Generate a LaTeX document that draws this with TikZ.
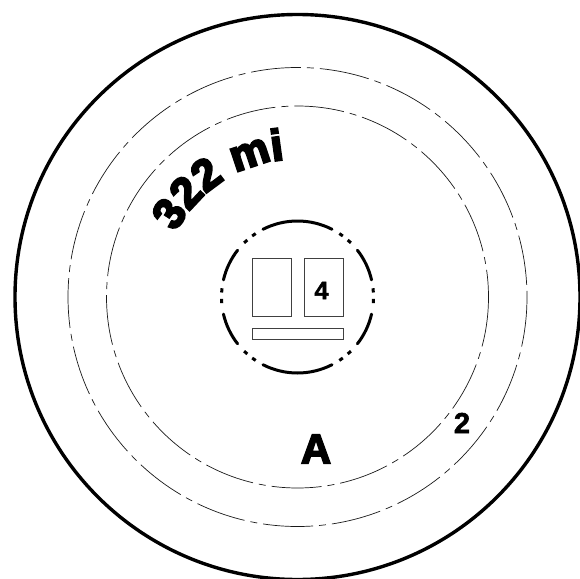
\documentclass[tikz,border=0pt]{standalone}
\usepackage{fontspec}
\usetikzlibrary{calc,decorations.text}
\font\distfont="Liberation Sans/B:embolden=5" at 44pt
\font\afont="Liberation Sans/B:embolden=4" at 42pt
\font\twofont="Liberation Sans/B:embolden=2" at 29pt
\font\fourfont="Liberation Sans/B:embolden=2" at 25pt
\begin{document}
\begin{tikzpicture}[x=1bp,y=-1bp,
  rim/.style={draw=black,line width=3.4bp},
  chain/.style={draw=black!90,line width=0.7bp,dash pattern=on 50bp off 6bp on 7bp off 6bp},
  hub/.style={draw=black,line width=3bp,line cap=round},
  hubdot/.style={draw=black,line width=3bp},
  slot/.style={draw=black!75,line width=0.9bp,fill=white},
  lab/.style={inner sep=0pt,text=black}]
\useasboundingbox (0,0) rectangle (580,579);
\fill[white] (0,0) rectangle (580,579);
\coordinate (c) at (297.5,297);
\draw[rim] (c) circle[radius=282.5];
\draw[chain] (c) circle[radius=229.5];
\draw[chain] (c) circle[radius=191];
\foreach \a/\b in {63/117,142/167,193/218,243/297,322/347,13/38}
  \draw[hub] ($(c)+(\a:76)$) arc[start angle=\a,end angle=\b,radius=76];
\foreach \a in {125,133,177,185,227,235,305,313,355,363,47,55}
  \draw[hubdot] ($(c)+(\a-1.6:76)$) arc[start angle=\a-1.6,end angle=\a+1.6,radius=76];
\draw[slot] (252,258) rectangle (291,316);
\draw[slot] (304,258) rectangle (343,316);
\draw[slot] (252,328) rectangle (343,339);
\node[lab,font=\fourfont] (four) at (321.5,290.5) {4};
\node[lab,font=\twofont] (two) at (462,423) {2};
\node[lab,font=\afont] (aa) at (316,449) {A};
\path[decorate,decoration={text along path,text={|\distfont|322 mi},text align={left indent=0pt}}]
  ($(c)+(208:138)$) arc[start angle=208,end angle=285,radius=138];
\end{tikzpicture}
\end{document}
